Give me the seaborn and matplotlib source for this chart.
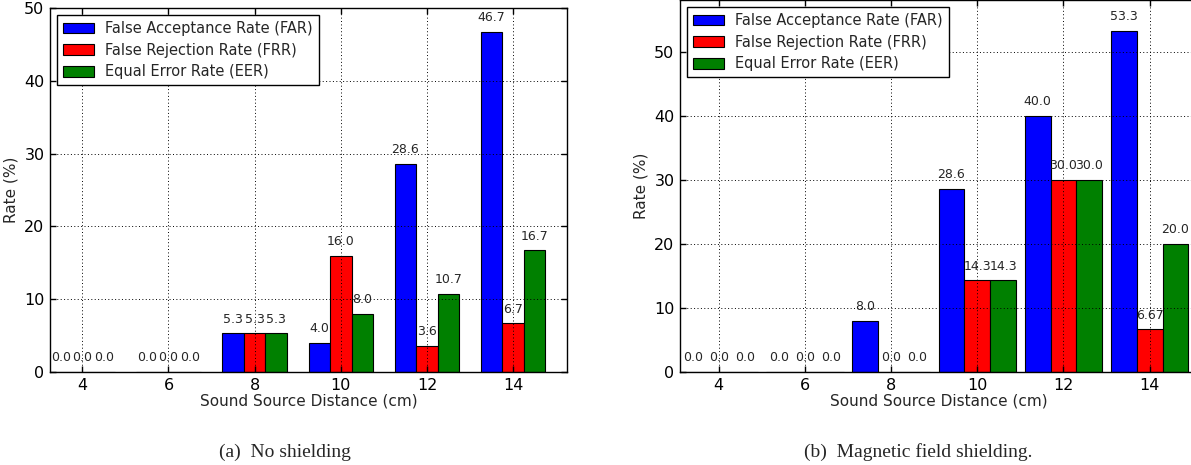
import matplotlib
matplotlib.use("Agg")
import matplotlib.pyplot as plt
import seaborn as sns
import pandas as pd

# Sound source distances (cm) and error-rate metrics
distances = [4, 6, 8, 10, 12, 14]
metrics = ["False Acceptance Rate (FAR)",
           "False Rejection Rate (FRR)",
           "Equal Error Rate (EER)"]
colors = ["#0000ff", "#ff0000", "#008000"]

# (a) No shielding
far_none = [0.0, 0.0, 5.3, 4.0, 28.6, 46.7]
frr_none = [0.0, 0.0, 5.3, 16.0, 3.6, 6.7]
eer_none = [0.0, 0.0, 5.3, 8.0, 10.7, 16.7]

# (b) Magnetic field shielding
far_shield = [0.0, 0.0, 8.0, 28.6, 40.0, 53.3]
frr_shield = [0.0, 0.0, 0.0, 14.3, 30.0, 6.67]
eer_shield = [0.0, 0.0, 0.0, 14.3, 30.0, 20.0]

y_ticks = [0, 10, 20, 30, 40, 50]


def to_frame(far, frr, eer):
    rows = []
    for name, vals in zip(metrics, (far, frr, eer)):
        for d, v in zip(distances, vals):
            rows.append({"distance": d, "rate": v, "metric": name})
    return pd.DataFrame(rows)


sns.set_style("ticks")
plt.rcParams.update({
    "font.family": ["DejaVu Sans"],
    "axes.edgecolor": "black",
    "axes.linewidth": 1.0,
    "xtick.color": "black",
    "ytick.color": "black",
})

W, H = 1191, 465
fig = plt.figure(figsize=(W / 100, H / 100), dpi=100)
ax1 = fig.add_axes([50 / W, 93 / H, 517 / W, 364 / H])
ax2 = fig.add_axes([680 / W, 93 / H, 517 / W, 372 / H])


def draw(ax, series, width, xlim, ylim):
    df = to_frame(*series)
    sns.barplot(data=df, x="distance", y="rate", hue="metric",
                hue_order=metrics, palette=colors, saturation=1,
                width=width, edgecolor="black", linewidth=0.8,
                errorbar=None, ax=ax)
    for cont, vals in zip(ax.containers, series):
        ax.bar_label(cont, labels=[str(v) for v in vals], padding=5.5,
                     fontsize=9)
    ax.set_xlim(*xlim)
    ax.set_ylim(*ylim)
    ax.set_yticks(y_ticks)
    ax.set_xlabel("Sound Source Distance (cm)", fontsize=11, labelpad=1)
    ax.set_ylabel("Rate (%)", fontsize=11, labelpad=4)
    ax.tick_params(direction="in", top=True, right=True, length=4,
                   width=1, labelsize=11.5, pad=4)
    ax.set_axisbelow(False)
    ax.grid(True, linestyle=(0, (1, 2.5)), color="black", linewidth=0.7)
    for s in ax.spines.values():
        s.set_visible(True)
        s.set_color("black")
    ax.legend(loc="upper left", fontsize=10.5, frameon=True, fancybox=False,
              edgecolor="black", framealpha=1, borderpad=0.4,
              labelspacing=0.45, handlelength=2.1, handleheight=0.75,
              handletextpad=0.8, borderaxespad=0.5, title=None)
    ax.get_legend().get_frame().set_linewidth(1.0)


draw(ax1, (far_none, frr_none, eer_none), 0.75, (-0.375, 5.625), (0, 50))
draw(ax2, (far_shield, frr_shield, eer_shield), 0.9, (-0.45, 5.55), (0, 58.1))

cap_font = dict(family=["Liberation Serif"], fontsize=14, ha="center",
                va="center")
fig.text(285 / W, 1 - 452 / H, "(a)  No shielding", **cap_font)
fig.text(918 / W, 1 - 452 / H, "(b)  Magnetic field shielding.", **cap_font)

fig.savefig("out.png", dpi=100)
